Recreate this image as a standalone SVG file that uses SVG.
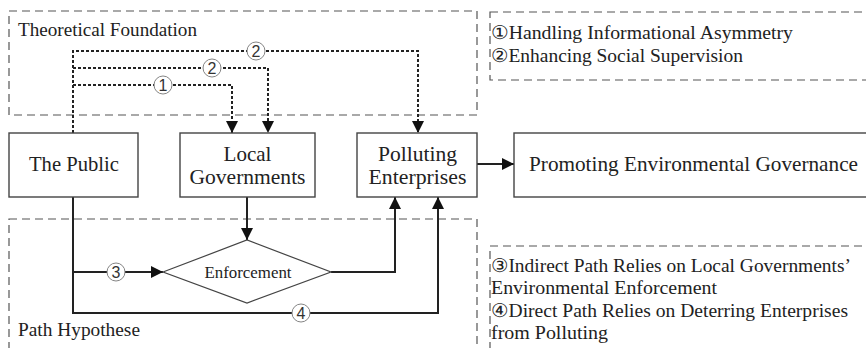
<svg xmlns="http://www.w3.org/2000/svg" width="866" height="348" viewBox="0 0 866 348">
<style>
  .bg{fill:#fff}
  .frame{fill:none;stroke:#555;stroke-width:1.2;stroke-dasharray:8 5}
  .node{fill:#fff;stroke:#444;stroke-width:1.4}
  .t{font-family:"Liberation Serif","Times New Roman",serif;fill:#222}
  .lg{font-size:19px}
  .nd{font-size:21px;text-anchor:middle}
  .dot{fill:none;stroke:#222;stroke-width:2;stroke-dasharray:3 2}
  .sol{fill:none;stroke:#222;stroke-width:2}
  .cir{fill:#fff;stroke:#777;stroke-width:0.9}
  .num{font-family:"Liberation Sans",Arial,sans-serif;font-size:16px;fill:#333;text-anchor:middle}
</style>
<defs>
  <marker id="arr" markerUnits="userSpaceOnUse" markerWidth="14" markerHeight="14" viewBox="0 0 14 14" refX="13" refY="7" orient="auto">
    <path d="M1,1 L13,7 L1,13 Z" fill="#111"/>
  </marker>
</defs>
<rect class="bg" x="0" y="0" width="866" height="348"/>

<g id="frame-theory">
  <rect class="frame" x="9" y="11" width="468" height="104"/>
  <text class="t" x="18" y="36" font-size="19" textLength="179" lengthAdjust="spacingAndGlyphs">Theoretical Foundation</text>
</g>
<g id="frame-path">
  <rect class="frame" x="9" y="219" width="468" height="150"/>
  <text class="t" x="18" y="336" font-size="19" textLength="122" lengthAdjust="spacingAndGlyphs">Path Hypothese</text>
</g>
<g id="legend-top">
  <rect class="frame" x="490" y="12" width="390" height="68"/>
  <text class="t lg" x="491" y="39" textLength="302" lengthAdjust="spacingAndGlyphs">①Handling Informational Asymmetry</text>
  <text class="t lg" x="491" y="62" textLength="252" lengthAdjust="spacingAndGlyphs">②Enhancing Social Supervision</text>
</g>
<g id="legend-bottom">
  <rect class="frame" x="490" y="246" width="390" height="130"/>
  <text class="t lg" x="491" y="272" textLength="360" lengthAdjust="spacingAndGlyphs">③Indirect Path Relies on Local Governments’</text>
  <text class="t lg" x="491" y="294" textLength="226" lengthAdjust="spacingAndGlyphs">Environmental Enforcement</text>
  <text class="t lg" x="491" y="317" textLength="357" lengthAdjust="spacingAndGlyphs">④Direct Path Relies on Deterring Enterprises</text>
  <text class="t lg" x="491" y="339" textLength="117" lengthAdjust="spacingAndGlyphs">from Polluting</text>
</g>

<g id="connectors">
  <path class="dot" d="M73,133 V51 H418 V133" marker-end="url(#arr)"/>
  <path class="dot" d="M73,68 H268 V133" marker-end="url(#arr)"/>
  <path class="dot" d="M73,85 H232 V133" marker-end="url(#arr)"/>
  <path class="sol" d="M477,164 H514" marker-end="url(#arr)"/>
  <path class="sol" d="M73,197 V313 H438 V197" marker-end="url(#arr)"/>
  <path class="sol" d="M73,272 H163" marker-end="url(#arr)"/>
  <path class="sol" d="M247,197 V240" marker-end="url(#arr)"/>
  <path class="sol" d="M331,272 H395 V197" marker-end="url(#arr)"/>
  <g id="labels">
    <circle class="cir" cx="256" cy="51" r="9"/><text class="num" x="256" y="57">2</text>
    <circle class="cir" cx="212" cy="68" r="9"/><text class="num" x="212" y="74">2</text>
    <circle class="cir" cx="163" cy="85" r="9"/><text class="num" x="163" y="91">1</text>
    <circle class="cir" cx="116" cy="272" r="9"/><text class="num" x="116" y="278">3</text>
    <circle class="cir" cx="301" cy="313" r="9"/><text class="num" x="301" y="319">4</text>
  </g>
</g>

<g id="node-public">
  <rect class="node" x="9" y="133" width="129" height="64"/>
  <text class="t nd" x="74" y="171" textLength="90" lengthAdjust="spacingAndGlyphs">The Public</text>
</g>
<g id="node-local">
  <rect class="node" x="180" y="133" width="135" height="64"/>
  <text class="t nd" x="247.5" y="161">Local</text>
  <text class="t nd" x="247.5" y="184" textLength="116" lengthAdjust="spacingAndGlyphs">Governments</text>
</g>
<g id="node-polluting">
  <rect class="node" x="357" y="133" width="120" height="64"/>
  <text class="t nd" x="417.5" y="161" textLength="79" lengthAdjust="spacingAndGlyphs">Polluting</text>
  <text class="t nd" x="417.5" y="184" textLength="98" lengthAdjust="spacingAndGlyphs">Enterprises</text>
</g>
<g id="node-promoting">
  <rect class="node" x="514" y="133" width="370" height="64"/>
  <text class="t" x="529" y="171" font-size="21" textLength="329" lengthAdjust="spacingAndGlyphs">Promoting Environmental Governance</text>
</g>
<g id="node-enforcement">
  <polygon class="node" points="163,272 247,240 331,272 247,303" style="stroke-width:1.2"/>
  <text class="t" x="248" y="277.5" font-size="16" text-anchor="middle" textLength="87" lengthAdjust="spacingAndGlyphs">Enforcement</text>
</g>
</svg>
